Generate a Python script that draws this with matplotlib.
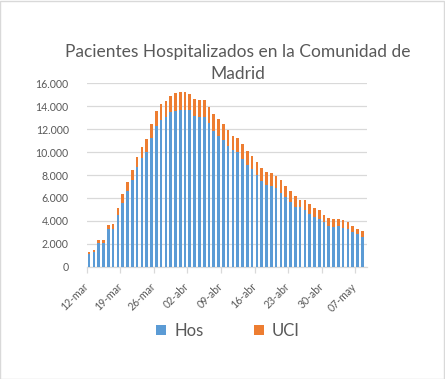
import numpy as np
import matplotlib
matplotlib.use("Agg")
import matplotlib.pyplot as plt
from matplotlib.patches import Rectangle

# daily values from 12-mar to 08-may
hos = [1105, 1300, 2035, 2035, 3286, 3286, 4507, 5583, 6601, 7561,
       8666, 9451, 10033, 11254, 12272, 12795, 13086, 13493, 13609, 13668,
       13668, 13638, 13173, 13028, 13028, 12500, 11865, 11428, 11050, 10527,
       10178, 10033, 9393, 8870, 8491, 7997, 7503, 7125, 7037, 6834,
       6456, 6049, 5670, 5234, 5250, 4943, 4594, 4362, 4129, 3926,
       3548, 3490, 3548, 3402, 3286, 2995, 2850, 2559]
uci = [175, 150, 295, 295, 349, 436, 640, 786, 785, 872,
       930, 1018, 1105, 1221, 1308, 1367, 1396, 1425, 1571, 1570,
       1570, 1425, 1454, 1512, 1512, 1458, 1454, 1454, 1396, 1396,
       1222, 1163, 1308, 1221, 1163, 1163, 1075, 1105, 1105, 1076,
       1105, 988, 931, 931, 566, 873, 873, 727, 814, 581,
       727, 668, 610, 669, 640, 582, 436, 582]
tick_labels = ["12-mar", "19-mar", "26-mar", "02-abr", "09-abr",
               "16-abr", "23-abr", "30-abr", "07-may"]

blue = "#5B9BD5"
orange = "#ED7D31"
grey = "#595959"
font = ["Lato", "DejaVu Sans"]
plt.rcParams["font.family"] = font

fig = plt.figure(figsize=(4.45, 3.79), dpi=100)
ax = fig.add_axes([0.195, 0.2963, 0.63, 0.4837])

x = np.arange(len(hos))
ax.bar(x, hos, width=0.55, color=blue, label="Hos", zorder=3)
ax.bar(x, uci, width=0.55, bottom=hos, color=orange, label="UCI", zorder=3)

ax.set_xlim(-0.5, 58.0)
ax.set_ylim(0, 16000)
ax.set_yticks(np.arange(0, 16001, 2000))
ax.set_yticklabels([f"{v:,}".replace(",", ".") for v in range(0, 16001, 2000)])
ax.yaxis.grid(True, color="#D9D9D9", linewidth=0.9, zorder=0)
ax.tick_params(axis="y", length=0, pad=13, labelsize=7.6, labelcolor=grey)

ax.set_xticks(np.arange(-0.5, 58, 7))
ax.set_xticklabels(tick_labels, rotation=45, ha="right", va="center",
                   rotation_mode="anchor")
ax.tick_params(axis="x", length=4, color="#D9D9D9", width=0.9, pad=9,
               labelsize=7.6, labelcolor=grey)
for lab in ax.get_xticklabels():
    lab.set_x(lab.get_position()[0])

for s in ["top", "right", "left"]:
    ax.spines[s].set_visible(False)
ax.spines["bottom"].set_color("#D9D9D9")
ax.spines["bottom"].set_linewidth(0.9)

fig.text(0.535, 0.834, "Pacientes Hospitalizados en la Comunidad de\nMadrid",
         ha="center", va="center", fontsize=12.5, color=grey, linespacing=1.45)

leg = fig.legend(loc="center", bbox_to_anchor=(0.512, 0.127), ncol=2, frameon=False,
                 fontsize=12, handlelength=0.6, handleheight=0.6,
                 columnspacing=3.0, handletextpad=0.5, labelcolor=grey)

fig.patches.append(Rectangle((0.001, 0.001), 0.997, 0.997, transform=fig.transFigure,
                             fill=False, edgecolor="#D9D9D9", linewidth=1))

fig.savefig("out.png", dpi=100)
